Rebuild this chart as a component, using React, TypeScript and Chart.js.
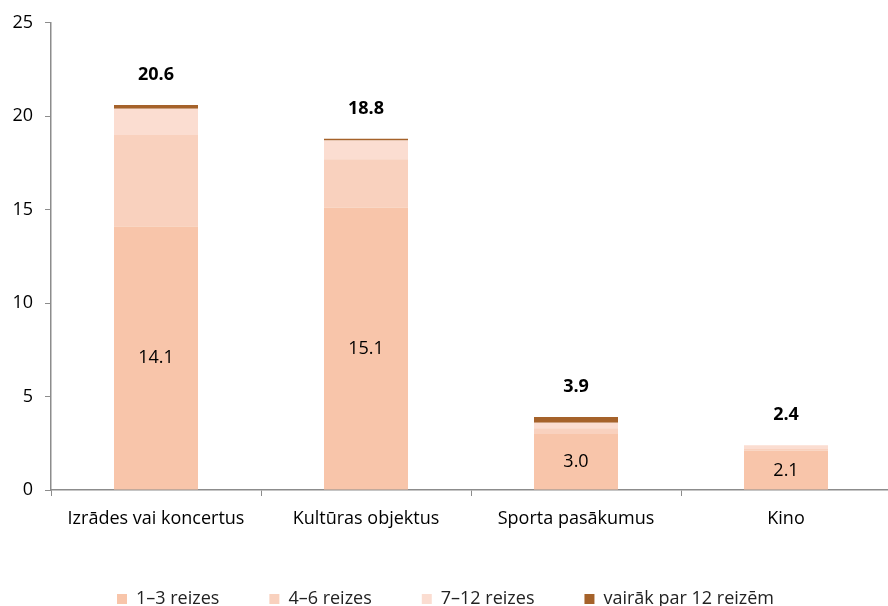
import React, { useEffect, useRef } from "react";
import { Chart, registerables } from "chart.js";

Chart.register(...registerables);

const categories = ["Izrādes vai koncertus", "Kultūras objektus", "Sporta pasākumus", "Kino"];
const seriesNames = ["1–3 reizes", "4–6 reizes", "7–12 reizes", "vairāk par 12 reizēm"];
const s1 = [14.1, 15.1, 3.0, 2.1];
const s2 = [4.9, 2.6, 0.3, 0.1];
const s3 = [1.4, 1.0, 0.3, 0.2];
const s4 = [0.2, 0.1, 0.3, 0.0];
const totals = [20.6, 18.8, 3.9, 2.4];
const yTicks = [0, 5, 10, 15, 20, 25];

const colors = ["#F8C5AA", "#F9D1BE", "#FBDDD1", "#A5622A"];
const FONT = "'Open Sans', Lato, sans-serif";
const FS = 18;

const labelPlugin = {
  id: "labels",
  afterDatasetsDraw(chart: any) {
    const ctx = chart.ctx;
    const meta0 = chart.getDatasetMeta(0);
    const yScale = chart.scales.y;
    ctx.save();
    ctx.textAlign = "center";
    ctx.textBaseline = "middle";
    meta0.data.forEach((bar: any, i: number) => {
      ctx.fillStyle = "#000";
      ctx.font = `${FS}px ${FONT}`;
      const yTop = yScale.getPixelForValue(s1[i]);
      const yBot = yScale.getPixelForValue(0);
      ctx.fillText(s1[i].toFixed(1), bar.x, (yTop + yBot) / 2);
      ctx.font = `bold ${FS}px ${FONT}`;
      const yt = yScale.getPixelForValue(totals[i]);
      ctx.fillText(totals[i].toFixed(1), bar.x, yt - 30);
    });
    ctx.restore();
  },
};

export default function App() {
  const ref = useRef<HTMLCanvasElement>(null);
  useEffect(() => {
    document.body.style.margin = "0";
    document.body.style.overflow = "hidden";
    const data = [s1, s2, s3, s4];
    const chart = new Chart(ref.current!, {
      type: "bar",
      data: {
        labels: categories,
        datasets: seriesNames.map((n, k) => ({
          label: n,
          data: data[k],
          backgroundColor: colors[k],
          borderWidth: 0,
          barPercentage: 0.4,
          categoryPercentage: 1,
        })),
      },
      options: {
        animation: false,
        responsive: false,
        maintainAspectRatio: false,
        layout: { padding: { top: 8, right: 0, left: 0, bottom: 0 } },
        plugins: {
          tooltip: { enabled: false },
          legend: {
            position: "bottom",
            labels: {
              boxWidth: 10,
              boxHeight: 10,
              padding: 50,
              color: "#222",
              font: { family: FONT, size: FS },
            },
          },
        },
        scales: {
          x: {
            stacked: true,
            grid: { offset: true, drawOnChartArea: false, tickLength: 6, color: "#8c8c8c" },
            border: { color: "#8c8c8c", width: 1.5 },
            ticks: { color: "#000", font: { family: FONT, size: FS }, padding: 12, maxRotation: 0 },
            afterFit: (s: any) => { s.height = 50; },
          },
          y: {
            stacked: true,
            min: 0,
            max: 25,
            afterBuildTicks: (s: any) => { s.ticks = yTicks.map((v) => ({ value: v })); },
            grid: { drawOnChartArea: false, tickLength: 6, color: "#8c8c8c" },
            border: { color: "#8c8c8c", width: 1.5 },
            ticks: { color: "#000", font: { family: FONT, size: FS }, padding: 12 },
            afterFit: (s: any) => { s.width = 51; },
          },
        },
      },
      plugins: [labelPlugin],
    });
    return () => chart.destroy();
  }, []);
  return (
    <div style={{ width: 888, height: 606, overflow: "hidden" }}>
      <canvas ref={ref} width={891} height={618} style={{ display: "block" }} />
    </div>
  );
}
